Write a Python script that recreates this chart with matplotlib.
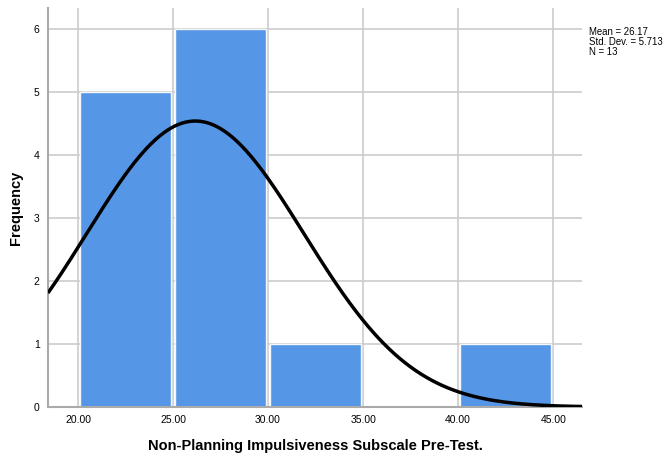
import numpy as np
import matplotlib.pyplot as plt

bin_edges = [20, 25, 30, 35, 40, 45]
counts = [5, 6, 1, 0, 1]
mean = 26.17
std_dev = 5.713
n = 13
xlabel = 'Non-Planning Impulsiveness Subscale Pre-Test.'

plt.rcParams['font.family'] = ['Liberation Sans', 'DejaVu Sans']

fig = plt.figure(figsize=(6.66, 4.54), dpi=100)
ax = fig.add_axes([0.072, 0.1035, 0.802, 0.8785])

lefts = np.array(bin_edges[:-1], dtype=float)
widths = np.diff(bin_edges).astype(float)
# bars sit slightly inside their bins, grid shows in the gaps
ax.bar(lefts + 0.12, counts, width=widths - 0.22, align='edge', color='#5596e6',
       edgecolor='#f4f8fd', linewidth=1.0, zorder=2)

# normal curve scaled to counts
x = np.linspace(18.42, 46.52, 300)
bw = widths[0]
y = n * bw / (std_dev * np.sqrt(2 * np.pi)) * np.exp(-0.5 * ((x - mean) / std_dev) ** 2)
ax.plot(x, y, color='black', linewidth=2.5, zorder=3, solid_capstyle='butt')

ax.set_xlim(18.42, 46.52)
ax.set_ylim(0, 6.33)
ax.set_xticks(bin_edges)
ax.set_xticklabels(['%.2f' % v for v in bin_edges])
ax.set_yticks(range(0, 7))
ax.grid(True, color='#cccccc', linewidth=1.2, zorder=0)
ax.set_axisbelow(True)
ax.tick_params(length=0, labelsize=7.5, pad=6)
for s in ['top', 'right']:
    ax.spines[s].set_visible(False)
for s in ['left', 'bottom']:
    ax.spines[s].set_color('#aaaaaa')
    ax.spines[s].set_linewidth(1.5)

ax.set_xlabel(xlabel, fontsize=10.5, fontweight='bold', labelpad=10)
ax.set_ylabel('Frequency', fontsize=10.5, fontweight='bold', labelpad=8)

fig.text(0.884, 0.94, 'Mean = %.2f\nStd. Dev. = %.3f\nN = %d' % (mean, std_dev, n),
         fontsize=6.9, va='top', ha='left', linespacing=1.0)

fig.savefig('out.png', dpi=100)
